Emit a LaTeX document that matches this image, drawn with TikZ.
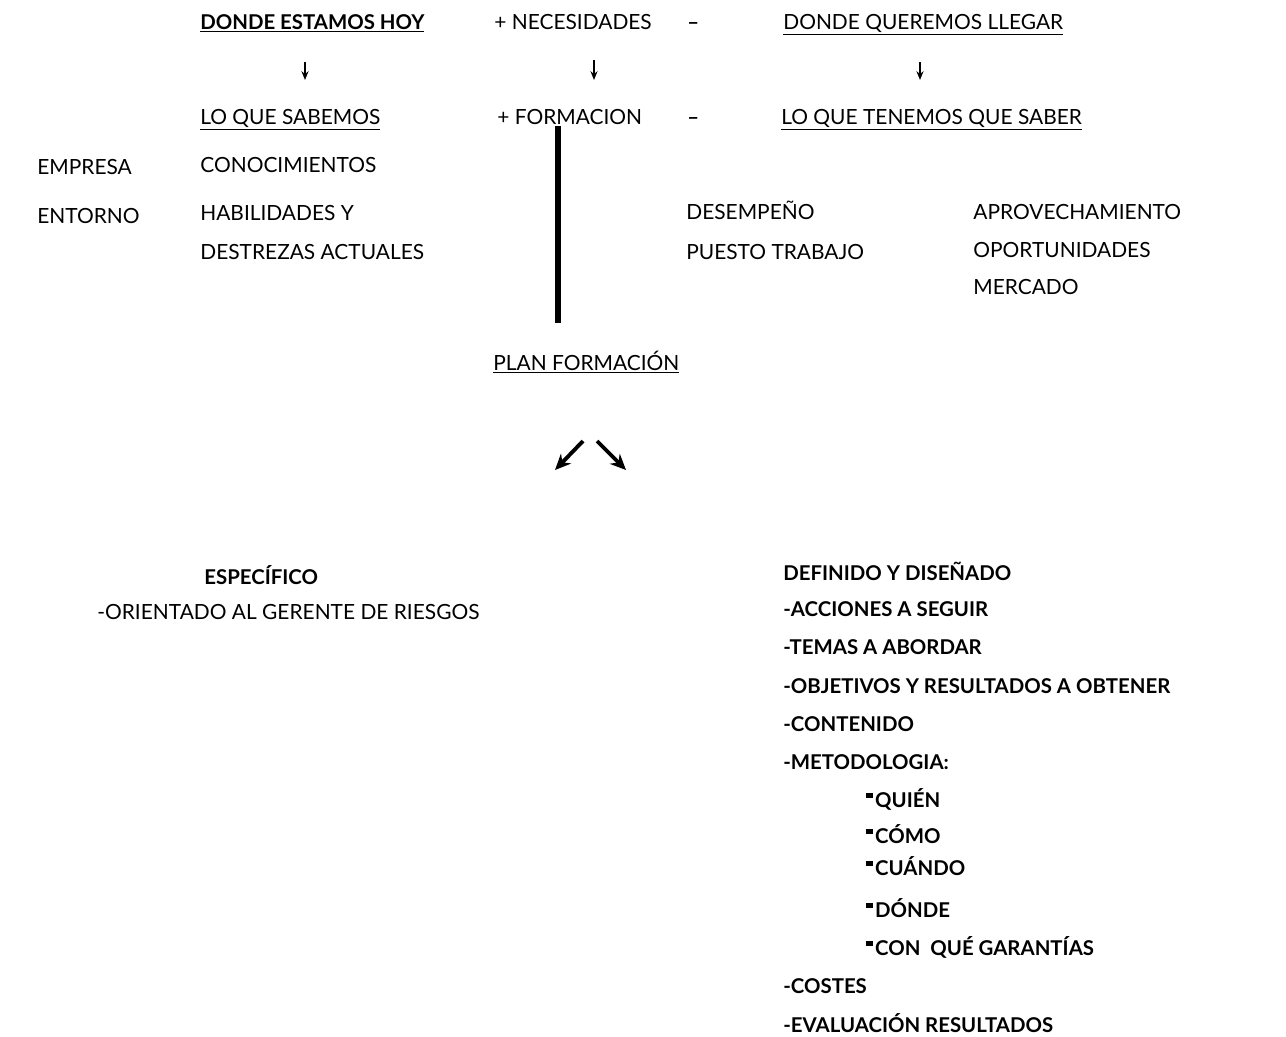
\documentclass[tikz,border=0pt]{standalone}
\usepackage{fontspec}
\setmainfont{Lato}
\usetikzlibrary{arrows.meta}
\newcommand{\blt}{\raisebox{0.85ex}{\rule{3.5pt}{3pt}}\hspace{1.5pt}}
\tikzset{
  txt/.style={anchor=base west,inner sep=0pt,font=\fontsize{11.9}{14}\selectfont},
  btxt/.style={anchor=base west,inner sep=0pt,font=\fontsize{11.6}{14}\selectfont\bfseries},
  downarrow/.style={-{Stealth[length=5pt,width=4pt]},line width=1pt},
  bigarrow/.style={-{Stealth[length=9pt,width=8pt]},line width=2.2pt}
}
\begin{document}
\begin{tikzpicture}[x=0.02cm,y=-0.02cm]
  \useasboundingbox (0,0) rectangle (1286,1036);
  % top rows
  \node[btxt] (hoy) at (200,29) {\underline{DONDE ESTAMOS HOY}};
  \node[txt] (nec) at (494,29) {+ NECESIDADES};
  \node[btxt] (eq1) at (687,29) {–};
  \node[txt] (llegar) at (783,29) {\underline{DONDE QUEREMOS LLEGAR}};
  \node[txt] (sabemos) at (200,124) {\underline{LO QUE SABEMOS}};
  \node[txt] (form) at (497,124) {+ FORMACION};
  \node[btxt] (eq2) at (687,124) {–};
  \node[txt] (saber) at (781,124) {\underline{LO QUE TENEMOS QUE SABER}};
  %
  \coordinate (a1) at (305,62); \coordinate (b1) at (305,80);
  \coordinate (a2) at (594,60); \coordinate (b2) at (594,80);
  \coordinate (a3) at (920,62); \coordinate (b3) at (920,80);
  \draw[downarrow] (a1) -- (b1);
  \draw[downarrow] (a2) -- (b2);
  \draw[downarrow] (a3) -- (b3);
  % left column
  \node[txt] (empresa) at (37,174) {EMPRESA};
  \node[txt] (entorno) at (37,223) {ENTORNO};
  \node[txt] (conoc) at (200,172) {CONOCIMIENTOS};
  \node[txt] (habil) at (200,220) {HABILIDADES Y};
  \node[txt] (destr) at (200,259) {DESTREZAS ACTUALES};
  % right column
  \node[txt] (desemp) at (686,219) {DESEMPEÑO};
  \node[txt] (puesto) at (686,259) {PUESTO TRABAJO};
  \node[txt] (aprov) at (973,219) {APROVECHAMIENTO};
  \node[txt] (oport) at (973,257) {OPORTUNIDADES};
  \node[txt] (merc) at (973,294) {MERCADO};
  % plan
  \coordinate (top) at (558,126);
  \coordinate (bot) at (558,323);
  \draw[line width=3.4pt] (top) -- (bot);
  \node[txt] (plan) at (493,370) {\underline{PLAN FORMACIÓN}};
  \coordinate (l1) at (583,441); \coordinate (l2) at (555,470);
  \coordinate (r1) at (597,441); \coordinate (r2) at (626,470);
  \draw[bigarrow] (l1) -- (l2);
  \draw[bigarrow] (r1) -- (r2);
  % especifico
  \node[btxt] (espec) at (204,584) {ESPECÍFICO};
  \node[txt] (orient) at (97,619) {-ORIENTADO AL GERENTE DE RIESGOS};
  % definido
  \node[btxt] (defin) at (783,580) {DEFINIDO Y DISEÑADO};
  \node[btxt] (acc) at (783,616) {-ACCIONES A SEGUIR};
  \node[btxt] (temas) at (783,654) {-TEMAS A ABORDAR};
  \node[btxt] (obj) at (783,693) {-OBJETIVOS Y RESULTADOS A OBTENER};
  \node[btxt] (cont) at (783,731) {-CONTENIDO};
  \node[btxt] (metod) at (783,769) {-METODOLOGIA:};
  \node[btxt] (quien) at (866,807) {\blt QUIÉN};
  \node[btxt] (como) at (866,843) {\blt CÓMO};
  \node[btxt] (cuando) at (866,875) {\blt CUÁNDO};
  \node[btxt] (donde) at (866,917) {\blt DÓNDE};
  \node[btxt] (garant) at (866,955) {\blt CON\ \ QUÉ GARANTÍAS};
  \node[btxt] (costes) at (783,993) {-COSTES};
  \node[btxt] (eval) at (783,1032) {-EVALUACIÓN RESULTADOS};
\end{tikzpicture}
\end{document}
